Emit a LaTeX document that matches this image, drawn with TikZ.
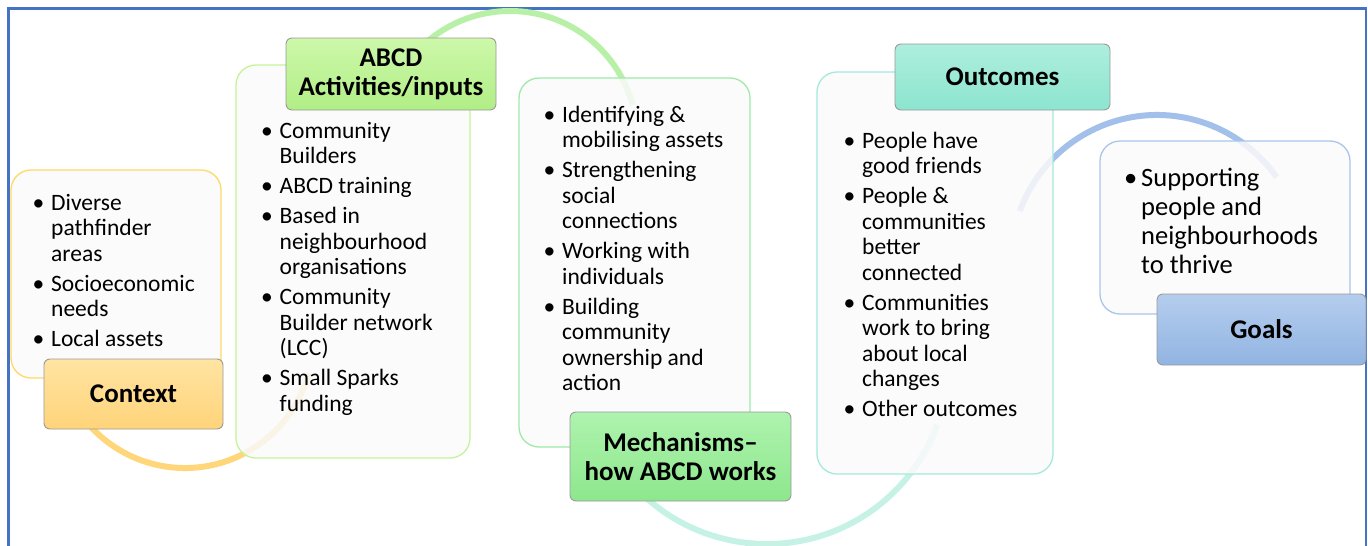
\documentclass[tikz,border=0pt]{standalone}
\usepackage{fontspec}
\setmainfont{Carlito}
\definecolor{framecol}{HTML}{4472C4}
\definecolor{paper}{HTML}{FAFAFA}
\definecolor{tagline}{HTML}{9A9A9A}
\definecolor{ctxline}{HTML}{FFD966}
\definecolor{actline}{HTML}{C5F29A}
\definecolor{mechline}{HTML}{9EEAAA}
\definecolor{outcline}{HTML}{A5E9DA}
\definecolor{goalline}{HTML}{A9C6EA}
\definecolor{ctxring}{HTML}{FFD67A}
\definecolor{actring}{HTML}{B9F0A8}
\definecolor{outcring}{HTML}{C6F2E6}
\definecolor{goalring}{HTML}{A2C0E9}
\definecolor{ctxtop}{HTML}{FFE4A2}
\definecolor{ctxbot}{HTML}{FFD47A}
\definecolor{acttop}{HTML}{CDF8AA}
\definecolor{actbot}{HTML}{B1EE86}
\definecolor{mechtop}{HTML}{AEF3AE}
\definecolor{mechbot}{HTML}{8DE78D}
\definecolor{outctop}{HTML}{AEEEDD}
\definecolor{outcbot}{HTML}{8CE5CF}
\definecolor{goaltop}{HTML}{B4CDEE}
\definecolor{goalbot}{HTML}{92B4E2}
\newcommand\bul{\makebox[18.5pt][l]{\textbullet}}
\tikzset{
  panel/.style={draw=#1, line width=1.3pt, fill=paper, fill opacity=0.86, rounded corners=20pt, inner sep=0pt},
  tag/.style={draw=tagline, line width=0.9pt, rounded corners=6pt, inner sep=0pt, align=center,
    top color=#1top, bottom color=#1bot, font=\fontsize{27}{29}\selectfont\bfseries},
  list/.style={anchor=base west, inner sep=0pt, font=\fontsize{23.5}{25.5}\selectfont},
  ring/.style={draw=#1, line width=6pt}
}
\begin{document}
\begin{tikzpicture}[x=1pt,y=-1pt]
\useasboundingbox (0,0) rectangle (1368,546);
\draw[framecol, line width=2.5pt] (8.5,546) -- (8.5,8.5) -- (1366,8.5) -- (1366,546);
% arcs behind the panels
\foreach \cx/\cy/\r/\a/\b/\c in {185/340/128/150/15/ctxring, 510/138/127/225/345/actring,
    767/363/181/140/20/outcring, 1157/261/146/200/325/goalring}
  \draw[ring=\c] (\cx,\cy) ++(\a:\r) arc[start angle=\a, end angle=\b, radius=\r];
% panels
\foreach \n/\x/\y/\w/\h/\c in {ctxbox/116/274/210/208/ctxline, actbox/353/261.5/234/393/actline,
    mechbox/634.5/262.5/231/369/mechline, outbox/935/273/236/402/outcline,
    goalbox/1225/227.5/250/173/goalline}
  \node[panel=\c, minimum width=\w pt, minimum height=\h pt] (\n) at (\x,\y) {};
% titles
\node[tag=ctx, minimum width=179pt, minimum height=70pt] (ctxtag) at (133.5,394) {Context};
\node[tag=act, minimum width=210pt, minimum height=72pt] (acttag) at (391,74) {ABCD\\Activities/inputs};
\node[tag=mech, minimum width=221pt, minimum height=89pt] (mechtag) at (680.5,456.5) {Mechanisms--\\how ABCD works};
\node[tag=outc, minimum width=215pt, minimum height=66pt] (outtag) at (1002.5,77) {Outcomes};
\node[tag=goal, minimum width=209pt, minimum height=71pt] (goaltag) at (1261.5,329.5) {Goals};
% bullet lists
\node[list] (ctxtext) at (32.5,210) {\begin{tabular}[t]{@{}l@{}l@{}}
  \bul & Diverse\\ & pathfinder\\ & areas\\[4.5pt]
  \bul & Socioeconomic\\ & needs\\[4.5pt]
  \bul & Local assets
\end{tabular}};
\node[list] (acttext) at (261,138) {\begin{tabular}[t]{@{}l@{}l@{}}
  \bul & Community\\ & Builders\\[4.5pt]
  \bul & ABCD training\\[4.5pt]
  \bul & Based in\\ & neighbourhood\\ & organisations\\[4.5pt]
  \bul & Community\\ & Builder network\\ & (LCC)\\[4.5pt]
  \bul & Small Sparks\\ & funding
\end{tabular}};
\node[list] (mechtext) at (543.5,122) {\begin{tabular}[t]{@{}l@{}l@{}}
  \bul & Identifying \&\\ & mobilising assets\\[4.5pt]
  \bul & Strengthening\\ & social\\ & connections\\[4.5pt]
  \bul & Working with\\ & individuals\\[4.5pt]
  \bul & Building\\ & community\\ & ownership and\\ & action
\end{tabular}};
\node[list] (outtext) at (843.5,148) {\begin{tabular}[t]{@{}l@{}l@{}}
  \bul & People have\\ & good friends\\[4.5pt]
  \bul & People \&\\ & communities\\ & better\\ & connected\\[4.5pt]
  \bul & Communities\\ & work to bring\\ & about local\\ & changes\\[4.5pt]
  \bul & Other outcomes
\end{tabular}};
\node[list, font=\fontsize{26.5}{29}\selectfont] (goaltext) at (1124,186) {\begin{tabular}[t]{@{}l@{}l@{}}
  \makebox[17pt][l]{\textbullet} & Supporting\\ & people and\\ & neighbourhoods\\ & to thrive
\end{tabular}};
\end{tikzpicture}
\end{document}
